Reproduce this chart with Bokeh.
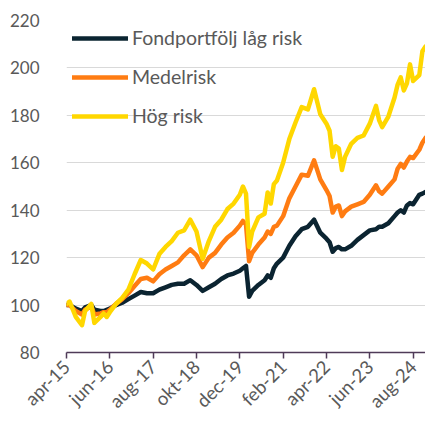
import math
from bokeh.plotting import figure
from bokeh.models import Range1d, FixedTicker, Legend, LegendItem
from bokeh.embed import file_html
from bokeh.resources import INLINE

# month index since apr-15
months = [0, 1, 3, 5, 6, 8, 9, 11, 12, 13,
          14, 16, 18, 20, 22, 24, 26, 28, 30, 32,
          34, 36, 38, 40, 42, 44, 46, 48, 50, 52,
          54, 56, 57, 58, 59, 60, 62, 64, 65, 66,
          67, 68, 70, 72, 74, 76, 78, 80, 82, 84,
          85, 86, 87, 88, 89, 90, 92, 94, 96, 98,
          100, 101, 102, 104, 106, 107, 108, 109, 110, 111,
          112, 114, 115, 116]

lag_risk = [100, 100, 98.5, 97.5, 99, 100, 98, 97.5, 97.5, 98,
            98.5, 100, 101, 102.5, 104, 105.5, 105, 105, 106.5, 107.5,
            108.5, 109, 109, 110.5, 108.5, 106, 107.5, 109, 111, 112.5,
            113.3, 114.5, 115.5, 116.5, 103.5, 106, 108.5, 110.5, 112.5, 111.5,
            115.5, 117.5, 120, 125, 129, 132, 133, 136, 130.5, 128,
            126.5, 122.5, 124, 124.5, 123.5, 123.5, 125, 127.5, 129.5, 131.5,
            132, 133, 133, 134.5, 137.5, 139, 140, 139, 142, 143,
            142.5, 146.5, 147, 147.7]

medelrisk = [100, 100, 97.5, 96, 98, 99.5, 96, 96.5, 97, 97,
             98, 100.5, 102.5, 105, 108, 111, 111.5, 110, 113, 115,
             116.5, 118, 121, 123.5, 121, 116, 120, 122, 125.5, 128.5,
             130.5, 133.5, 135.5, 134, 118.5, 122, 125.5, 128.5, 131, 130,
             133, 133.5, 137.5, 145, 150, 155, 154.5, 161, 153, 148.5,
             146, 139, 141.5, 142, 137.5, 139.5, 141.5, 142.5, 143.5, 146.5,
             150.5, 148, 147, 150, 153, 157.5, 159.5, 158, 160.5, 162.5,
             162, 165.5, 168.5, 170.5]

hog_risk = [100.5, 101.5, 95, 91.5, 97.5, 100.5, 92.5, 95, 96.5, 95,
            97, 100.5, 103, 106.5, 113, 119, 117.5, 115, 121.5, 124.5,
            127, 130.5, 131.5, 136, 131, 119.5, 127, 133, 136, 140.5,
            142.8, 146.5, 150, 147, 124.5, 131, 137, 138.5, 147.5, 142.8,
            151, 152.5, 160, 170, 177, 183.5, 182.5, 191, 180.5, 176.5,
            173.5, 162.5, 167, 166, 157, 162.5, 168, 170.5, 171.5, 176.5,
            184, 178, 175, 179.5, 187.5, 193, 196, 190.5, 193.5, 201.5,
            194.5, 197, 207, 209]

series_names = ["Fondportfölj låg risk", "Medelrisk", "Hög risk"]
series_colors = ["#0b2431", "#ff7c12", "#ffd700"]

x_ticks = [0, 14, 28, 42, 56, 70, 84, 98, 112]
x_labels = ["apr-15", "jun-16", "aug-17", "okt-18", "dec-19",
            "feb-21", "apr-22", "jun-23", "aug-24"]
y_ticks = [80, 100, 120, 140, 160, 180, 200, 220]

FONT = "Lato"
GREY = "#595959"

p = figure(width=425, height=422, output_backend="svg", toolbar_location=None,
           x_range=Range1d(0, 116), y_range=Range1d(80, 220),
           min_border_left=66, min_border_right=0, min_border_top=20,
           min_border_bottom=69)
p.outline_line_color = None
p.background_fill_color = "white"
p.border_fill_color = "white"

renderers = []
for vals, col in zip([lag_risk, medelrisk, hog_risk], series_colors):
    r = p.line(months, vals, line_color=col, line_width=4.5,
               line_join="round", line_cap="round")
    renderers.append(r)

p.xgrid.visible = False
p.ygrid.grid_line_color = "#d9d9d9"
p.ygrid.grid_line_width = 1
p.yaxis.ticker = FixedTicker(ticks=y_ticks)
p.yaxis.axis_line_color = None
p.yaxis.major_tick_line_color = None
p.yaxis.minor_tick_line_color = None
p.yaxis.major_label_standoff = 21
p.yaxis.major_label_text_font = FONT
p.yaxis.major_label_text_font_size = "17px"
p.yaxis.major_label_text_color = GREY

p.xaxis.ticker = FixedTicker(ticks=x_ticks)
p.xaxis.major_label_overrides = {t: l for t, l in zip(x_ticks, x_labels)}
p.xaxis.major_label_orientation = math.pi / 4
p.xaxis.axis_line_color = "#4f3b58"
p.xaxis.axis_line_width = 1.5
p.xaxis.major_tick_line_color = "#4f3b58"
p.xaxis.major_tick_line_width = 1.5
p.xaxis.major_tick_out = 6
p.xaxis.major_tick_in = 0
p.xaxis.minor_tick_line_color = None
p.xaxis.major_label_standoff = 5
p.xaxis.major_label_text_font = FONT
p.xaxis.major_label_text_font_size = "18.5px"
p.xaxis.major_label_text_line_height = 1.0
p.xaxis.major_label_text_color = GREY

legend = Legend(items=[LegendItem(label=n, renderers=[r]) for n, r in zip(series_names, renderers)],
                location="top_left", background_fill_alpha=0, border_line_color=None,
                glyph_width=56, glyph_height=20, label_height=20, spacing=16,
                padding=0, margin=6, label_standoff=4,
                label_text_font=FONT, label_text_font_size="19.5px",
                label_text_color=GREY)
p.add_layout(legend)

open("out.html", "w").write(file_html(p, INLINE))
